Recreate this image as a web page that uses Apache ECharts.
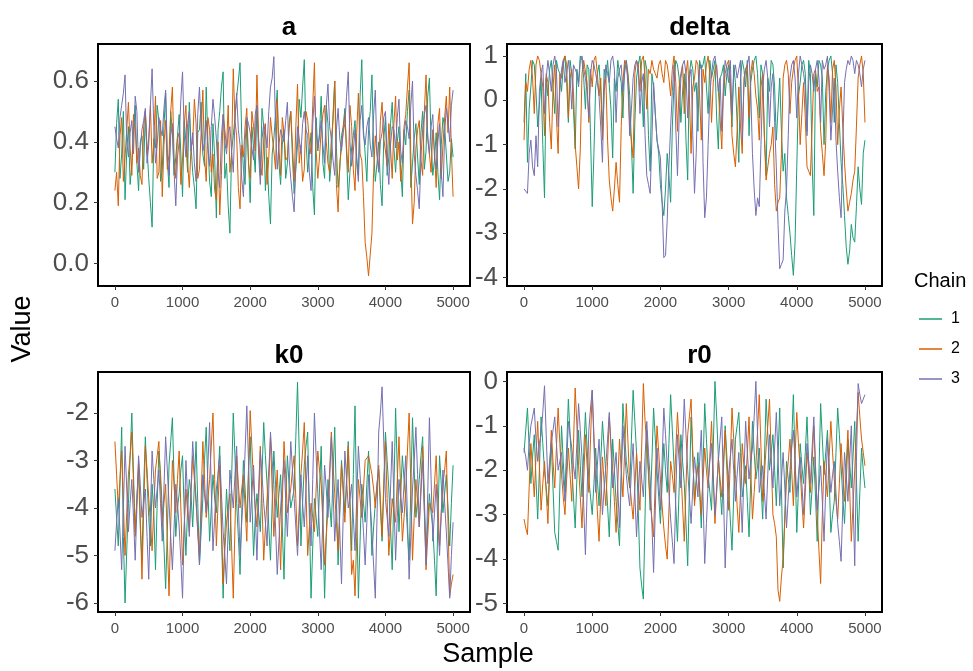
<!DOCTYPE html>
<html>
<head>
<meta charset="utf-8">
<script src="https://cdn.jsdelivr.net/npm/echarts@6/dist/echarts.min.js"></script>
<style>
  html, body { margin: 0; padding: 0; background: #fff; }
  #chart { width: 973px; height: 671px; }
</style>
</head>
<body>
<div id="chart"></div>
<script>
// values read every 50 samples (main) and at the half steps between them (Mid)
var sampleStep = 50;
var xTicks = [0, 1000, 2000, 3000, 4000, 5000];
var chainNames = ["1", "2", "3"];
var chainColors = ["#1B9E77", "#D95F02", "#7570B3"];
var panelTitles = ["a", "delta", "k0", "r0"];

var aTicks = [0, 0.2, 0.4, 0.6];
var deltaTicks = [-4, -3, -2, -1, 0, 1];
var k0Ticks = [-6, -5, -4, -3, -2];
var r0Ticks = [-5, -4, -3, -2, -1, 0];

var aChain1 = [0.30,0.54,0.36,0.21,0.45,0.33,0.52,0.24,0.42,0.50,0.28,0.12,0.38,0.47,0.31,0.56,0.25,0.43,0.35,0.49,
  0.22,0.40,0.53,0.30,0.18,0.44,0.36,0.58,0.27,0.46,0.15,0.50,0.63,0.33,0.10,0.42,0.55,0.66,0.31,0.47,
  0.20,0.38,0.52,0.29,0.45,0.35,0.13,0.41,0.57,0.26,0.44,0.33,0.50,0.23,0.39,0.48,0.67,0.30,0.43,0.16,
  0.37,0.55,0.28,0.46,0.34,0.60,0.25,0.42,0.51,0.21,0.38,0.47,0.29,0.67,0.36,0.44,0.62,0.27,0.40,0.19,
  0.48,0.35,0.53,0.30,0.45,0.22,0.39,0.57,0.33,0.46,0.26,0.50,0.37,0.61,0.29,0.43,0.21,0.48,0.36,0.30,0.35];
var aChain1Mid = [0.46,0.28,0.50,0.37,0.26,0.44,0.33,0.40,0.31,0.38,0.20,0.41,0.52,0.27,0.45,0.34,0.50,0.29,0.42,0.36,
  0.47,0.30,0.39,0.25,0.43,0.53,0.32,0.40,0.22,0.35,0.44,0.58,0.28,0.19,0.37,0.48,0.60,0.42,0.26,0.34,
  0.45,0.30,0.40,0.51,0.24,0.22,0.36,0.49,0.33,0.39,0.28,0.46,0.35,0.31,0.54,0.58,0.41,0.36,0.25,0.48,
  0.43,0.33,0.52,0.27,0.49,0.38,0.31,0.45,0.36,0.30,0.42,0.35,0.55,0.44,0.27,0.50,0.37,0.33,0.26,0.41,
  0.29,0.46,0.38,0.40,0.31,0.44,0.50,0.25,0.41,0.35,0.43,0.31,0.55,0.40,0.34,0.30,0.39,0.45,0.27,0.41];
var aChain2 = [0.24,0.19,0.48,0.35,0.53,0.29,0.45,0.38,0.26,0.50,0.41,0.33,0.55,0.30,0.22,0.47,0.36,0.58,0.28,0.43,
  0.34,0.52,0.25,0.40,0.46,0.31,0.57,0.27,0.44,0.36,0.21,0.16,0.49,0.38,0.30,0.64,0.42,0.18,0.35,0.51,
  0.28,0.45,0.62,0.33,0.40,0.26,0.48,0.37,0.54,0.29,0.43,0.35,0.50,0.27,0.59,0.39,0.31,0.47,0.36,0.66,
  0.28,0.44,0.52,0.33,0.41,0.60,0.17,0.38,0.49,0.30,0.45,0.24,0.56,0.34,0.07,-0.04,0.10,0.42,0.31,0.53,
  0.37,0.46,0.28,0.55,0.40,0.33,0.49,0.66,0.13,0.38,0.47,0.29,0.62,0.36,0.44,0.25,0.51,0.39,0.55,0.58,0.22];
var aChain2Mid = [0.30,0.42,0.27,0.44,0.38,0.49,0.33,0.29,0.45,0.36,0.52,0.40,0.28,0.47,0.39,0.31,0.50,0.35,0.41,0.26,
  0.46,0.33,0.38,0.54,0.28,0.43,0.35,0.48,0.30,0.24,0.40,0.29,0.44,0.52,0.36,0.47,0.25,0.39,0.45,0.33,
  0.50,0.37,0.41,0.29,0.46,0.35,0.42,0.31,0.38,0.48,0.34,0.44,0.39,0.45,0.33,0.27,0.50,0.40,0.52,0.37,
  0.35,0.49,0.40,0.30,0.47,0.26,0.33,0.44,0.38,0.52,0.31,0.43,0.36,0.22,0.02,0.03,0.30,0.36,0.47,0.41,
  0.32,0.38,0.46,0.34,0.27,0.45,0.58,0.35,0.20,0.44,0.34,0.50,0.41,0.30,0.37,0.46,0.28,0.48,0.43,0.37];
var aChain3 = [0.45,0.38,0.52,0.62,0.35,0.47,0.55,0.30,0.44,0.51,0.39,0.64,0.33,0.48,0.42,0.57,0.29,0.46,0.19,0.40,
  0.63,0.35,0.50,0.43,0.27,0.58,0.37,0.47,0.32,0.54,0.41,0.25,0.49,0.36,0.45,0.30,0.56,0.39,0.22,0.48,
  0.43,0.34,0.52,0.26,0.46,0.38,0.58,0.68,0.31,0.44,0.40,0.53,0.28,0.17,0.45,0.36,0.50,0.42,0.24,0.55,
  0.38,0.47,0.33,0.59,0.41,0.29,0.51,0.37,0.46,0.63,0.32,0.44,0.27,0.52,0.39,0.48,0.35,0.57,0.30,0.43,
  0.50,0.26,0.45,0.38,0.54,0.33,0.47,0.41,0.60,0.29,0.18,0.44,0.52,0.36,0.49,0.31,0.46,0.22,0.51,0.40,0.57];
var aChain3Mid = [0.41,0.48,0.56,0.40,0.43,0.36,0.50,0.38,0.47,0.33,0.52,0.45,0.39,0.44,0.51,0.36,0.42,0.30,0.35,0.54,
  0.42,0.46,0.37,0.33,0.49,0.44,0.40,0.38,0.45,0.48,0.30,0.42,0.40,0.43,0.37,0.47,0.44,0.28,0.40,0.46,
  0.38,0.49,0.36,0.41,0.43,0.50,0.61,0.45,0.39,0.42,0.47,0.35,0.22,0.33,0.41,0.46,0.44,0.30,0.46,0.43,
  0.42,0.39,0.52,0.45,0.34,0.44,0.41,0.43,0.55,0.40,0.37,0.33,0.47,0.42,0.45,0.39,0.49,0.36,0.40,0.48,
  0.34,0.39,0.44,0.48,0.37,0.42,0.45,0.52,0.36,0.24,0.35,0.49,0.42,0.45,0.35,0.40,0.30,0.43,0.47,0.52];

var deltaChain1 = [-0.5,-1.4,0.3,0.8,-0.6,0.5,-2.2,0.1,0.9,-0.3,0.7,0.2,1.0,-0.5,0.6,-1.1,0.4,0.9,-0.2,0.7,
  -2.4,0.3,0.8,-0.7,0.5,0.9,-1.3,0.2,0.6,-0.4,0.9,0.1,-2.1,0.5,1.0,-0.6,0.7,-1.6,0.3,-0.9,
  -1.9,-2.6,-1.2,-2.3,0.4,0.8,-0.5,0.6,-1.8,0.9,0.2,-0.7,0.7,1.0,-0.3,0.5,0.9,-1.1,0.6,0.1,
  0.8,-0.6,0.4,-1.4,0.9,0.3,-0.8,0.7,1.0,-0.4,0.6,-1.7,0.2,0.8,-0.9,0.5,-1.6,-2.2,-3.0,-3.95,
  -1.5,0.4,0.9,-0.7,0.6,-2.6,0.3,0.8,-1.0,0.7,1.0,-0.5,0.4,-1.4,-2.6,-3.7,-2.8,-3.2,-1.5,-2.35,-0.9];
var deltaChain1Mid = [0.6,-0.2,0.9,0.2,-0.1,-1.0,0.5,0.7,0.3,0.9,0.6,0.8,0.4,0.9,-0.2,0.7,1.0,0.5,0.8,-0.8,
  -1.2,0.6,0.2,0.7,0.9,-0.2,0.5,0.9,0.4,0.8,0.6,-1.0,-0.5,0.8,0.3,0.9,-0.8,0.6,-0.3,-1.2,
  -2.3,-2.0,-1.7,-0.6,0.9,0.5,0.2,-0.9,0.6,0.7,0.4,0.9,0.8,0.3,0.9,0.7,-0.4,0.5,0.8,0.6,
  0.2,0.8,-0.5,0.5,0.7,0.9,0.4,0.9,0.6,0.8,-0.8,0.5,0.9,0.3,-0.2,-0.7,-1.2,-2.6,-3.5,-3.2,
  0.1,0.8,0.6,0.9,-1.4,0.6,0.9,0.5,0.2,0.9,0.6,0.8,-0.5,-1.9,-3.3,-3.4,-3.1,-2.4,-2.0,-1.2];
var deltaChain2 = [-0.9,0.2,0.9,-0.3,1.0,0.6,-0.8,0.4,-1.1,0.8,-1.2,0.5,1.0,-0.4,0.7,-1.0,-2.0,0.6,0.9,-0.5,
  0.3,1.0,0.1,-0.9,0.5,-1.8,-2.5,-1.4,-2.3,0.4,0.8,-0.6,-1.3,0.9,0.2,1.0,-0.2,0.6,0.7,0.5,
  0.9,0.4,0.8,0.1,1.0,-0.7,0.6,-0.3,0.9,-1.2,0.5,0.8,-0.9,0.4,1.0,-0.5,0.7,0.2,-1.1,0.6,
  0.9,-0.8,-1.5,0.3,-1.2,0.7,-0.4,0.9,0.1,-0.9,0.6,-1.8,-1.2,-0.6,-2.5,-2.2,0.5,0.9,-0.3,0.7,
  1.0,-1.0,0.4,-1.5,-1.7,0.6,0.2,-0.7,-1.7,0.8,-0.5,0.9,-1.0,0.3,-1.4,-2.5,-2.1,-1.6,0.5,1.0,-0.5];
var deltaChain2Mid = [0.4,0.7,0.5,0.8,0.9,0.3,0.6,-0.5,0.3,-0.4,0.6,0.9,0.8,0.5,0.2,-1.5,-1.1,0.9,0.4,0.7,
  0.9,0.6,0.5,0.2,-0.9,-2.2,-2.0,-1.9,-0.6,0.9,0.5,-0.9,0.6,0.8,0.9,0.5,0.7,0.9,0.6,0.8,
  0.6,0.9,0.5,0.7,0.4,0.3,0.8,0.6,0.1,0.3,0.9,0.1,0.7,0.8,0.6,0.4,0.8,-0.4,0.2,0.8,
  0.5,-1.2,-0.7,-0.6,0.5,0.8,0.6,0.6,-0.2,0.3,-0.8,-1.5,-1.0,-1.9,-2.3,-1.2,0.8,0.6,0.4,0.9,
  0.2,-0.3,-0.4,-1.6,-0.6,0.7,0.3,-1.2,-0.9,0.5,0.7,0.3,-0.2,-0.6,-2.0,-2.3,-1.8,-0.6,0.8,0.6];
var deltaChain3 = [-2.0,-2.1,-0.9,-1.7,-1.5,0.6,-0.3,0.9,0.2,1.0,-0.6,0.7,0.4,0.9,-0.2,0.8,0.3,1.0,0.5,-0.4,
  0.9,0.6,0.1,-1.4,0.8,0.4,1.0,-0.5,0.7,0.2,0.9,-0.8,0.5,0.9,-0.3,0.6,-1.7,-2.1,0.4,-0.9,
  -1.3,-3.55,-2.7,-0.6,0.8,-1.7,0.5,0.9,-0.4,0.7,-2.1,0.3,0.8,-2.65,-1.0,0.6,1.0,0.2,-0.7,0.9,
  0.4,-0.3,0.8,0.5,-0.9,0.7,1.0,-1.2,-2.6,-2.4,0.3,0.9,-0.6,0.6,-1.5,-3.8,-3.6,-2.0,0.5,0.9,
  -0.4,1.0,0.6,-0.8,0.8,0.2,0.9,-0.5,0.7,1.0,-0.9,0.5,-1.6,-2.65,0.4,0.9,1.0,0.6,0.8,0.3,0.9];
var deltaChain3Mid = [-2.0,-1.2,-1.5,-0.8,0.2,0.8,0.5,0.6,0.8,0.7,0.2,0.9,0.6,0.5,0.8,0.6,0.9,0.7,0.2,0.6,
  0.8,0.4,-0.6,0.3,0.6,0.9,0.7,0.5,0.8,0.6,0.3,-0.2,0.8,0.7,0.4,-0.8,-1.9,-0.9,-0.3,-1.1,
  -2.3,-3.5,-1.5,0.2,-0.6,-0.4,0.8,0.6,0.5,-0.8,-1.2,0.7,-1.4,-2.2,0.1,0.9,0.7,0.5,0.4,0.7,
  0.9,0.6,0.5,0.9,0.3,0.8,0.2,-2.0,-2.2,-1.0,0.7,0.5,0.3,-0.5,-2.8,-3.7,-2.5,-0.8,0.8,0.5,
  0.6,0.8,0.3,0.4,0.6,0.7,0.5,0.9,0.8,0.2,-0.2,-0.9,-2.2,-1.0,0.7,0.8,0.9,0.9,0.6,0.7];

var k0Chain1 = [-3.6,-4.8,-2.3,-6.0,-3.9,-2.0,-4.5,-3.2,-5.1,-2.5,-4.2,-3.5,-5.3,-2.8,-4.0,-5.7,-3.1,-2.1,-4.6,-3.7,
  -2.9,-5.0,-3.4,-4.4,-2.6,-5.2,-3.8,-2.3,-4.7,-3.3,-4.1,-2.7,-5.9,-3.6,-4.9,-2.0,-3.9,-5.4,-3.0,-4.3,
  -2.5,-5.0,-3.7,-4.5,-2.2,-3.5,-5.1,-2.8,-4.2,-3.3,-5.5,-2.9,-4.0,-3.6,-1.35,-4.8,-3.1,-2.4,-5.9,-3.8,
  -4.6,-2.7,-5.9,-3.4,-4.4,-2.3,-5.2,-3.0,-4.1,-2.6,-4.9,-1.85,-5.9,-3.5,-4.3,-2.8,-5.0,-3.9,-3.2,-4.7,
  -2.4,-3.6,-5.3,-1.9,-4.5,-2.9,-3.8,-5.1,-2.1,-4.2,-3.4,-2.5,-5.0,-3.7,-4.4,-5.85,-2.9,-4.1,-3.3,-4.8,-3.1];
var k0Chain1Mid = [-4.2,-3.5,-4.6,-4.9,-2.9,-3.3,-3.8,-4.4,-3.6,-3.4,-4.8,-4.1,-3.9,-3.3,-4.8,-4.5,-2.6,-3.4,-4.0,-3.2,
  -4.1,-4.0,-3.7,-3.5,-3.9,-4.5,-3.0,-3.6,-4.0,-3.8,-3.3,-4.5,-4.6,-4.3,-3.4,-2.9,-4.6,-4.1,-3.6,-3.2,
  -3.8,-4.2,-4.1,-3.3,-2.9,-4.4,-3.9,-3.5,-3.7,-4.4,-3.9,-3.5,-3.8,-2.5,-2.8,-3.9,-2.7,-4.2,-4.8,-4.2,
  -3.6,-4.3,-4.6,-3.9,-3.3,-3.8,-4.1,-3.5,-3.4,-3.8,-3.3,-4.0,-4.7,-3.9,-3.5,-3.9,-4.4,-3.5,-4.0,-3.5,
  -3.0,-4.4,-3.6,-3.2,-3.7,-3.4,-4.5,-3.6,-3.2,-3.8,-2.9,-3.8,-4.3,-4.1,-5.1,-4.3,-3.5,-3.7,-4.0,-3.9];
var k0Chain2 = [-2.6,-4.0,-2.8,-5.0,-3.3,-2.4,-4.6,-3.0,-5.5,-2.7,-3.8,-4.9,-3.2,-2.6,-4.4,-3.5,-5.85,-3.0,-4.1,-2.8,
  -5.2,-3.6,-4.5,-2.9,-3.9,-5.0,-2.6,-4.2,-3.4,-2.0,-4.8,-3.1,-5.6,-4.3,-3.7,-5.9,-2.9,-4.0,-3.3,-4.7,
  -1.95,-3.5,-4.4,-2.7,-5.1,-3.8,-2.5,-4.6,-3.2,-5.3,-2.6,-4.1,-3.6,-2.9,-4.8,-3.3,-2.2,-5.0,-3.9,-4.5,
  -2.8,-3.5,-5.2,-4.0,-2.4,-3.7,-4.9,-3.1,-4.3,-2.7,-5.4,-5.85,-3.4,-4.2,-3.0,-2.9,-3.3,-4.0,-3.1,-4.6,
  -2.6,-5.0,-3.8,-4.3,-2.5,-4.7,-3.6,-2.0,-5.1,-3.4,-4.4,-2.7,-5.3,-3.9,-4.1,-2.9,-4.8,-3.5,-2.8,-5.85,-5.4];
var k0Chain2Mid = [-3.3,-3.4,-3.9,-4.1,-2.9,-3.5,-3.8,-4.2,-4.1,-3.2,-4.3,-4.0,-2.9,-3.5,-3.9,-4.7,-4.4,-3.5,-3.4,-4.0,
  -4.4,-4.1,-3.7,-3.4,-4.5,-3.8,-3.4,-3.8,-2.7,-3.4,-3.9,-4.3,-4.9,-4.0,-4.8,-4.4,-3.5,-3.6,-4.0,-3.3,
  -2.7,-4.0,-3.6,-3.9,-4.4,-3.2,-3.6,-3.9,-4.2,-3.9,-3.3,-3.8,-3.2,-3.8,-4.0,-2.8,-3.6,-4.4,-4.2,-3.6,
  -3.2,-4.3,-4.6,-3.2,-3.1,-4.3,-4.0,-3.7,-3.5,-4.0,-5.1,-4.6,-3.8,-3.6,-3.0,-3.1,-3.6,-3.5,-3.8,-3.6,
  -3.8,-4.4,-4.1,-3.4,-3.6,-4.2,-2.8,-3.5,-4.2,-3.9,-3.5,-4.0,-4.6,-4.0,-3.5,-3.9,-4.1,-3.2,-4.3,-5.6];
var k0Chain3 = [-4.9,-3.8,-5.3,-2.7,-4.5,-3.4,-5.1,-2.9,-4.2,-3.6,-5.5,-2.8,-4.0,-3.2,-4.7,-2.5,-3.9,-5.3,-3.5,-4.4,
  -5.9,-3.0,-4.6,-2.6,-3.8,-5.2,-3.3,-4.1,-2.2,-4.9,-3.6,-2.9,-4.5,-5.6,-3.2,-4.0,-2.7,-5.0,-3.7,-1.85,
  -4.3,-3.1,-5.1,-2.8,-3.9,-4.8,-2.4,-3.5,-5.4,-4.0,-3.0,-4.6,-2.6,-3.8,-5.0,-3.3,-4.4,-2.9,-4.8,-2.0,
  -3.7,-5.3,-3.1,-4.2,-2.5,-4.7,-3.4,-5.6,-2.8,-4.0,-3.5,-4.9,-2.7,-3.9,-5.2,-3.3,-4.5,-5.9,-2.4,-1.45,
  -3.8,-4.6,-2.6,-5.1,-3.4,-4.1,-2.9,-5.5,-3.6,-2.3,-4.4,-3.0,-5.2,-2.1,-4.7,-3.5,-5.0,-3.2,-4.5,-5.9,-4.3];
var k0Chain3Mid = [-4.3,-4.5,-4.0,-3.6,-3.9,-4.2,-4.0,-3.5,-3.9,-4.6,-4.1,-3.4,-3.6,-3.9,-3.6,-3.2,-4.6,-4.4,-3.9,-5.1,
  -4.4,-3.8,-3.6,-3.2,-4.5,-4.2,-3.7,-3.1,-3.6,-4.2,-3.3,-3.7,-5.0,-4.4,-3.6,-3.3,-3.9,-4.3,-2.8,-3.0,
  -3.7,-4.1,-3.9,-3.3,-4.3,-3.6,-3.0,-4.4,-4.7,-3.5,-3.8,-3.6,-3.2,-4.4,-4.2,-3.9,-3.6,-3.9,-3.4,-2.9,
  -4.5,-4.2,-3.6,-3.4,-3.6,-4.0,-4.5,-4.2,-3.4,-3.8,-4.2,-3.8,-3.3,-4.5,-4.3,-3.9,-5.2,-4.2,-2.0,-2.6,
  -4.2,-3.6,-3.8,-4.2,-3.8,-3.5,-4.2,-4.6,-3.0,-3.3,-3.7,-4.1,-3.7,-3.4,-4.1,-4.3,-4.1,-3.9,-5.2,-5.0];

var r0Chain1 = [-1.6,-0.6,-2.3,-1.2,-3.1,-0.8,-2.0,-2.8,-1.4,-3.4,-3.8,-1.0,-2.5,-0.4,-1.9,-3.3,-1.1,-2.6,-0.7,-2.2,
  -3.0,-1.5,-2.8,-0.9,-2.1,-3.5,-1.3,-2.7,-3.7,-0.5,-1.8,-2.4,-0.2,-1.6,-4.2,-4.9,-1.1,-2.9,-0.6,-2.0,
  -3.2,-1.4,-2.5,-0.3,-1.9,-3.6,-1.2,-2.3,-4.15,-0.8,-2.7,-1.6,-3.3,-0.5,-2.1,-2.9,0.0,-1.7,-3.0,-1.0,
  -2.4,-3.8,-1.3,-0.7,-2.6,-1.9,-3.5,-0.9,-2.2,-1.5,-3.1,-0.4,-2.0,-1.2,-2.8,-0.6,-4.2,-1.8,-2.5,-0.3,
  -3.4,-1.4,-2.3,-0.8,-3.0,-1.7,-3.6,-0.5,-2.1,-1.1,-3.4,-2.7,-0.6,-1.9,-3.2,-1.3,-2.4,-0.9,-3.6,-1.5,-2.4];
var r0Chain1Mid = [-1.1,-1.5,-1.7,-2.2,-2.0,-1.4,-2.4,-2.1,-2.4,-3.6,-2.4,-1.8,-1.5,-1.2,-2.6,-2.2,-1.9,-1.6,-1.5,-2.6,
  -2.3,-2.2,-1.8,-1.5,-2.8,-2.4,-2.0,-3.2,-2.1,-1.2,-2.1,-1.3,-0.9,-2.9,-4.6,-3.0,-2.0,-1.8,-1.3,-2.6,
  -2.3,-2.0,-1.4,-1.1,-2.8,-2.4,-1.8,-3.2,-2.5,-1.7,-2.2,-2.5,-1.9,-1.3,-2.5,-1.5,-0.8,-2.4,-2.0,-1.7,
  -3.1,-2.6,-1.0,-1.6,-2.3,-2.7,-2.2,-1.6,-1.9,-2.3,-1.8,-1.2,-1.6,-2.0,-1.7,-2.4,-3.0,-2.2,-1.4,-1.8,
  -2.4,-1.9,-1.6,-1.9,-2.4,-2.6,-2.1,-1.3,-1.6,-2.2,-3.0,-1.6,-1.2,-2.6,-2.3,-1.8,-1.7,-2.2,-2.5,-2.0];
var r0Chain2 = [-3.1,-3.45,-1.4,-2.6,-0.9,-2.9,-1.8,-3.2,-1.1,-2.4,-0.6,-2.1,-3.0,-1.5,-2.7,-0.15,-1.9,-3.3,-1.2,-2.5,
  -0.2,-2.2,-3.6,-1.7,-2.8,-0.8,-2.0,-3.4,-1.3,-2.6,-0.5,-2.3,-3.1,-1.6,-2.9,-0.05,-1.4,-2.7,-3.5,-1.0,
  -2.2,-3.3,-4.0,-1.8,-2.5,-0.7,-2.0,-3.6,-1.2,-0.4,-2.8,-1.9,-3.0,-1.5,-2.4,-0.9,-3.2,-1.7,-2.6,-1.1,
  -2.9,-0.6,-2.1,-3.4,-1.4,-2.3,-0.8,-3.1,-1.9,-0.3,-2.7,-1.5,-0.4,-3.0,-3.5,-4.95,-4.0,-2.2,-1.3,-2.8,
  -0.7,-2.0,-3.3,-1.6,-2.5,-1.0,-3.0,-4.55,-1.8,-2.6,-0.9,-2.2,-3.1,-1.4,-2.7,-1.1,-3.6,-2.0,-0.25,-1.3,-1.9];
var r0Chain2Mid = [-3.3,-2.4,-2.0,-1.7,-1.9,-2.3,-2.5,-2.0,-1.8,-1.5,-1.4,-2.6,-2.2,-2.1,-1.4,-1.0,-2.6,-2.2,-1.9,-1.3,
  -1.2,-2.9,-2.6,-2.3,-1.8,-1.4,-2.7,-2.3,-2.0,-1.6,-1.4,-2.7,-2.4,-2.3,-1.5,-0.9,-2.1,-3.1,-2.2,-1.6,
  -2.8,-3.7,-2.9,-2.1,-1.6,-1.4,-2.8,-2.4,-0.8,-1.6,-2.3,-2.4,-2.2,-2.0,-1.7,-2.1,-2.5,-2.2,-1.8,-2.0,
  -1.8,-1.3,-2.8,-2.5,-1.9,-1.6,-2.0,-2.5,-1.1,-1.5,-2.1,-1.0,-1.7,-3.2,-4.7,-4.4,-3.1,-1.8,-2.0,-1.7,
  -1.4,-2.7,-2.5,-2.0,-1.8,-2.0,-3.8,-3.0,-2.2,-1.7,-1.6,-2.7,-2.3,-2.1,-1.9,-2.4,-2.8,-1.1,-0.8,-1.6];
var r0Chain3 = [-1.5,-2.0,-1.0,-0.6,-1.8,-1.2,-0.1,-2.3,-1.4,-0.8,-2.0,-1.6,-2.7,-0.9,-1.5,-2.2,-0.5,-1.7,-3.9,-1.1,
  -0.2,-2.5,-1.3,-3.0,-1.9,-0.7,-2.4,-1.6,-3.3,-1.0,-2.1,-2.8,-1.4,-3.5,-1.8,-2.6,-0.9,-2.2,-4.3,-1.5,
  -2.9,-0.6,-1.9,-3.1,-4.1,-1.2,-2.4,-0.4,-2.0,-3.2,-1.7,-2.6,-1.1,-4.1,-2.3,-1.4,-3.0,-1.8,-0.8,-4.2,
  -2.1,-1.3,-2.7,-1.6,-3.4,-0.9,-2.2,-1.5,0.0,-2.5,-1.9,-3.1,-1.2,-2.4,-0.7,-2.8,-1.6,-3.3,-2.0,-1.1,
  -2.6,-1.7,-3.0,-1.4,-2.3,-0.8,-2.9,-1.9,-3.6,-1.3,-2.5,-1.8,-3.2,-4.05,-1.6,-2.7,-1.0,-4.15,-0.05,-0.5,-0.3];
var r0Chain3Mid = [-1.7,-1.4,-0.8,-1.3,-1.4,-0.7,-1.2,-1.8,-1.1,-1.4,-1.8,-2.2,-1.9,-1.2,-1.9,-1.4,-1.1,-2.8,-2.5,-0.6,
  -1.4,-1.9,-2.1,-2.4,-1.3,-1.5,-2.0,-2.4,-2.2,-1.6,-2.5,-2.0,-2.5,-2.6,-2.2,-1.7,-1.6,-3.2,-2.9,-2.2,
  -1.8,-1.2,-2.5,-3.6,-2.6,-1.8,-1.4,-1.2,-2.6,-2.4,-2.1,-1.8,-2.6,-3.2,-1.8,-2.2,-2.4,-1.3,-2.5,-3.1,
  -1.7,-2.0,-2.1,-2.5,-2.1,-1.6,-1.8,-0.8,-1.2,-2.2,-2.5,-2.1,-1.8,-1.5,-1.7,-2.2,-2.4,-2.6,-1.5,-1.8,
  -2.1,-2.3,-2.2,-1.8,-1.5,-1.9,-2.4,-2.7,-2.4,-1.9,-2.1,-2.5,-3.6,-2.8,-2.1,-1.8,-2.6,-1.8,-0.3,-0.4];

var panelChains = [
  [[aChain1, aChain1Mid], [aChain2, aChain2Mid], [aChain3, aChain3Mid]],
  [[deltaChain1, deltaChain1Mid], [deltaChain2, deltaChain2Mid], [deltaChain3, deltaChain3Mid]],
  [[k0Chain1, k0Chain1Mid], [k0Chain2, k0Chain2Mid], [k0Chain3, k0Chain3Mid]],
  [[r0Chain1, r0Chain1Mid], [r0Chain2, r0Chain2Mid], [r0Chain3, r0Chain3Mid]]
];
var panelTicks = [aTicks, deltaTicks, k0Ticks, r0Ticks];

var font = "'Liberation Sans', Arial, sans-serif";
var grids = [
  { left: 98, top: 44, width: 372, height: 242 },
  { left: 507, top: 44, width: 375, height: 242 },
  { left: 98, top: 372, width: 372, height: 240 },
  { left: 507, top: 372, width: 375, height: 240 }
];
// y limits with ggplot-like 5% padding
var yLimits = [[-0.0735, 0.7215], [-4.19, 1.27], [-6.19, -1.137], [-5.19, 0.21]];

// main values sit on multiples of 50, the Mid values half a step later
function toPairs(main, mid) {
  var out = [];
  main.forEach(function (v, i) {
    out.push([i * sampleStep, v]);
    if (i < mid.length) out.push([i * sampleStep + sampleStep / 2, mid[i]]);
  });
  return out;
}

var chart = echarts.init(document.getElementById("chart"), null, { renderer: "canvas" });

var option = {
  animation: false,
  backgroundColor: "#fff",
  title: panelTitles.map(function (t, i) {
    return {
      text: t,
      left: grids[i].left + grids[i].width / 2,
      top: grids[i].top - 34,
      textAlign: "center",
      textStyle: { fontFamily: font, fontSize: 26, fontWeight: "bold", color: "#000" }
    };
  }),
  grid: grids.map(function (g) {
    return Object.assign({ show: true, borderColor: "#000", borderWidth: 2, backgroundColor: "transparent", containLabel: false }, g);
  }),
  xAxis: grids.map(function (g, i) {
    return {
      type: "value",
      gridIndex: i,
      min: -250,
      max: 5250,
      position: "bottom",
      splitLine: { show: false },
      axisLine: { show: false, onZero: false },
      axisTick: { show: true, length: 4, lineStyle: { color: "#333" }, customValues: xTicks },
      axisLabel: {
        color: "#4D4D4D", fontSize: 15, fontFamily: font, margin: 9, customValues: xTicks,
        formatter: function (v) { return String(v); }
      }
    };
  }),
  yAxis: grids.map(function (g, i) {
    return {
      type: "value",
      gridIndex: i,
      min: yLimits[i][0],
      max: yLimits[i][1],
      position: "left",
      splitLine: { show: false },
      axisLine: { show: false, onZero: false },
      axisTick: { show: true, length: 4, lineStyle: { color: "#333" }, customValues: panelTicks[i] },
      axisLabel: {
        color: "#4D4D4D", fontSize: 26, fontFamily: font, margin: 9,
        customValues: panelTicks[i],
        formatter: function (v) { return i === 0 ? v.toFixed(1) : String(Math.round(v)); }
      }
    };
  }),
  legend: {
    orient: "vertical",
    left: 914,
    top: 306,
    icon: "rect",
    itemWidth: 23,
    itemHeight: 1.5,
    itemGap: 14,
    data: chainNames,
    textStyle: { fontFamily: font, fontSize: 16, color: "#000", padding: [0, 0, 0, 4] }
  },
  graphic: [
    { type: "text", left: 914, top: 271, style: { text: "Chain", font: "20px " + font, fill: "#000" } },
    { type: "text", x: 23, y: 329, rotation: Math.PI / 2, style: { text: "Value", font: "27px " + font, fill: "#000", align: "center", verticalAlign: "middle" } },
    { type: "text", x: 488, y: 655, style: { text: "Sample", font: "27px " + font, fill: "#000", align: "center", verticalAlign: "middle" } }
  ],
  series: []
};

panelChains.forEach(function (chains, p) {
  chains.forEach(function (pair, c) {
    option.series.push({
      name: chainNames[c],
      type: "line",
      xAxisIndex: p,
      yAxisIndex: p,
      data: toPairs(pair[0], pair[1]),
      showSymbol: false,
      symbol: "none",
      color: chainColors[c],
      lineStyle: { width: 1, color: chainColors[c] },
      z: 2 + c
    });
  });
});

chart.setOption(option);
</script>
</body>
</html>
